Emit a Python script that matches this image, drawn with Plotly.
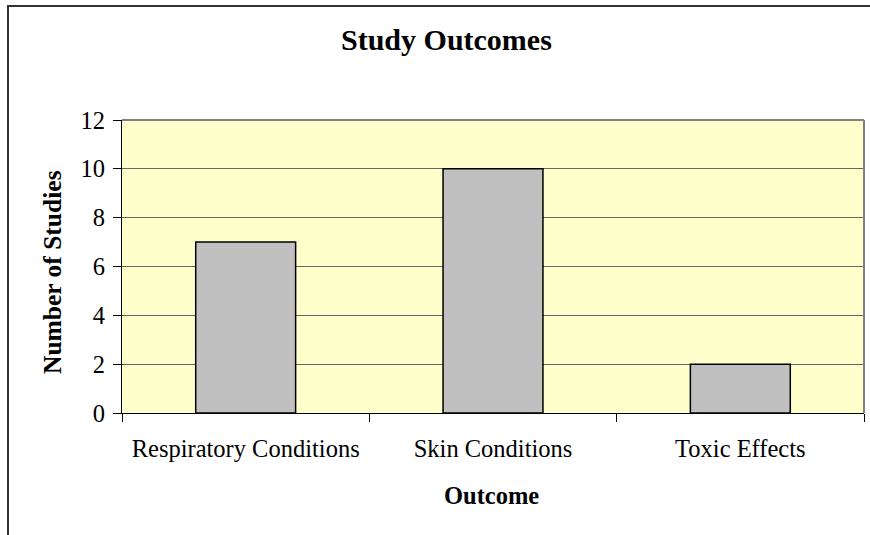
import plotly.graph_objects as go

categories = ["Respiratory Conditions", "Skin Conditions", "Toxic Effects"]
studies = [7, 10, 2]
y_ticks = [0, 2, 4, 6, 8, 10, 12]

W, H = 870, 535
L, R, T, B = 122, 6, 120, 122
PW, PH = W - L - R, H - T - B

def px(x):
    return (x - L) / PW

def py(y):
    return (H - B - y) / PH

FONT = "Liberation Serif"
TICK_SIZE = 24.5

fig = go.Figure(go.Bar(
    x=categories, y=studies,
    marker=dict(color="#C0C0C0", line=dict(color="black", width=1.5)),
))

fig.update_layout(
    width=W, height=H,
    margin=dict(l=L, r=R, t=T, b=B),
    paper_bgcolor="white", plot_bgcolor="#FFFFCC",
    bargap=0.596,
    showlegend=False,
    font=dict(family=FONT, color="black", size=TICK_SIZE),
)
fig.update_xaxes(
    showline=True, linecolor="black", linewidth=1,
    ticks="outside", tickson="boundaries", ticklen=8, tickcolor="black",
    showgrid=False, tickfont=dict(family=FONT, size=TICK_SIZE, color="black"),
    ticklabelstandoff=14,
)
fig.update_yaxes(
    range=[0, 12], tickvals=y_ticks,
    showline=True, linecolor="black", linewidth=1,
    ticks="outside", ticklen=8, tickcolor="black",
    showgrid=True, gridcolor="#666666", gridwidth=1, zeroline=False,
    tickfont=dict(family=FONT, size=TICK_SIZE, color="black"),
    ticklabelstandoff=3,
)

shapes = [
    # plot area top and right border
    dict(type="line", xref="paper", yref="paper", x0=0, x1=1, y0=1, y1=1,
         line=dict(color="#808080", width=2)),
    dict(type="line", xref="paper", yref="paper", x0=1, x1=1, y0=0, y1=1,
         line=dict(color="#808080", width=2)),
    # outer chart border
    dict(type="rect", xref="paper", yref="paper", x0=px(8), x1=px(890),
         y0=py(560), y1=py(6), line=dict(color="#333333", width=2)),
]
fig.update_layout(shapes=shapes)

annotations = [
    dict(text="<b>Study Outcomes</b>", xref="paper", yref="paper",
         x=px(446), y=py(40), showarrow=False, xanchor="center", yanchor="middle",
         font=dict(family=FONT, size=30, color="black")),
    dict(text="<b>Outcome</b>", xref="paper", yref="paper",
         x=px(491), y=py(495), showarrow=False, xanchor="center", yanchor="middle",
         font=dict(family=FONT, size=24.5, color="black")),
    dict(text="<b>Number of Studies</b>", xref="paper", yref="paper",
         x=px(52), y=py(272), showarrow=False, xanchor="center", yanchor="middle",
         textangle=-90, font=dict(family=FONT, size=25.5, color="black")),
]
fig.update_layout(annotations=annotations)

fig.write_html("out.html",
               config={"displayModeBar": False},
               post_script="document.body.style.margin='0';document.body.style.overflow='hidden';")
